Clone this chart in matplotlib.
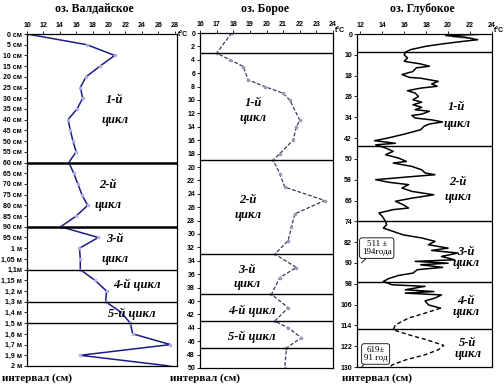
import matplotlib
matplotlib.use("Agg")
import matplotlib.pyplot as plt

W, H = 504, 386
SERIF = "Liberation Serif"
SANS = "Liberation Sans"

# --- оз. Валдайское ---
vald_labels = ["0 см", "5 см", "10 см", "15 см", "20 см", "25 см", "30 см", "35 см",
               "40 см", "45 см", "50 см", "55 см", "60 см", "65 см", "70 см", "75 см",
               "80 см", "85 см", "90 см", "95 см", "1 м", "1,05 м", "1,1м", "1,15 м",
               "1,2 м", "1,3 м", "1,4 м", "1,5 м", "1,6 м", "1,7 м", "1,9 м", "2 м"]
vald_temp = [10.0, 17.3, 20.7, 18.9, 17.2, 16.5, 16.8, 16.1, 15.0, 15.3, 15.6, 16.0,
             15.1, 15.7, 16.2, 16.7, 17.4, 16.0, 14.1, 18.7, 16.4, 16.5, 16.5, 18.3,
             19.7, 19.6, 21.5, 22.6, 22.9, 27.5, 16.5, 27.4]
vald_bounds = ["60 см", "90 см", "1,1м", "1,3 м", "1,5 м"]
vald_bound_lw = [1.8, 1.8, 1.0, 1.0, 1.0]
vald_cycles = ["1-й\nцикл", "2-й\nцикл", "3-й\nцикл", "4-й цикл", "5-й цикл"]
vald_cycle_pos = [(20.7, 7.1), (19.9, 15.0), (20.7, 20.1), (23.4, 23.4), (22.8, 26.1)]

# --- оз. Борое ---
bor_depth = [0, 3, 4, 5, 7, 8, 9, 10, 13, 14, 16, 18, 19, 21, 23, 25, 27, 29, 31, 33,
             35, 36.5, 39, 41, 43, 44, 45.5, 47, 50]
bor_temp = [17.9, 17.0, 17.8, 18.6, 18.9, 19.9, 21.0, 21.4, 22.0, 21.8, 21.6, 20.8,
            20.4, 20.8, 21.1, 23.5, 21.7, 21.5, 21.3, 20.5, 21.8, 20.8, 20.3, 21.3,
            20.5, 21.3, 22.1, 21.2, 21.1]
bor_bounds = [3, 19, 33, 39, 43, 47]
bor_cycles = ["1-й\nцикл", "2-й\nцикл", "3-й\nцикл", "4-й цикл", "5-й цикл"]
bor_cycle_pos = [(19.2, 11.6), (18.9, 26.0), (18.8, 36.4), (19.1, 41.5), (19.1, 45.4)]

# --- оз. Глубокое ---
glub_depth = [2.0, 2.6, 3.2, 4.2, 5.0, 5.8, 6.7, 8.0, 9.0, 10.0, 11.2, 12.5, 13.5, 14.4,
              15.0, 16.4, 17.6, 18.7, 19.0, 19.6, 20.2, 21.2, 22.1, 22.8, 23.8, 24.7,
              26.0, 27.3, 28.2, 29.2, 30.2, 31.1, 31.7, 32.8, 33.3, 34.3, 35.0, 35.8,
              36.6, 37.5, 38.8, 40.5, 42.0, 43.0, 44.0, 44.6, 45.8, 47.1, 48.4, 49.7,
              51.0, 51.6, 52.9, 54.2, 55.4, 56.1, 56.7, 58.0, 59.0, 59.9, 61.2, 62.5,
              63.8, 65.1, 66.3, 67.6, 68.9, 69.5, 70.8, 72.1, 74.0, 75.3, 76.6, 77.9,
              79.2, 80.4, 81.7, 83.0, 84.3, 85.2, 86.2, 87.5, 88.8, 89.4, 90.1, 90.7,
              91.7, 92.6, 93.9, 94.8, 96.0, 97.1, 98.4, 99.0, 100.3, 101.0, 101.6,
              102.3, 103.5, 104.6, 106.1, 107.4]
glub_temp = [23.6, 19.8, 21.5, 22.7, 21.0, 19.5, 18.0, 16.6, 16.1, 16.0, 16.3, 16.0, 17.5,
             18.3, 17.1, 16.8, 15.8, 16.5, 17.5, 18.3, 19.1, 18.5, 19.0, 17.5, 16.3, 17.0,
             17.3, 16.8, 17.6, 16.8, 17.6, 17.0, 18.3, 17.6, 16.7, 17.0, 18.5, 19.5, 18.3,
             17.8, 17.5, 16.0, 14.5, 13.3, 15.2, 13.4, 14.3, 15.0, 14.3, 15.5, 16.2, 15.0,
             16.7, 17.6, 17.9, 18.8, 17.0, 13.4, 14.6, 16.4, 15.8, 16.7, 18.7, 16.7, 15.2,
             15.9, 16.4, 15.0, 13.7, 14.0, 14.3, 14.4, 14.1, 15.0, 15.9, 17.6, 18.8, 18.2,
             20.0, 18.5, 20.9, 19.4, 20.6, 17.0, 20.0, 17.5, 19.5, 17.2, 16.8, 15.5, 14.6,
             14.1, 14.9, 17.9, 16.1, 18.7, 16.1, 19.4, 18.8, 17.9, 18.2, 19.3]
glub_dash_depth = [107.4, 109.3, 111.2, 113.8, 115.7, 117.6, 119.6, 121.7, 123.4,
                   125.3, 127.3, 129.2, 130.0]
glub_dash_temp = [19.3, 17.9, 16.4, 15.2, 15.0, 16.4, 18.1, 19.6, 19.1, 17.9, 16.1,
                  14.9, 14.7]
glub_shade_depth = [1.8, 2.4, 3.4, 4.2, 3.2, 2.6]
glub_shade_temp = [23.6, 20.2, 20.4, 22.7, 21.5, 19.8]
glub_bounds = [9, 45, 74, 97.3, 115.5]
glub_yticks = list(range(2, 131, 8))
glub_yticklabels = ["0"] + [str(v) for v in glub_yticks[1:]]
glub_cycles = ["1-й\nцикл", "2-й\nцикл", "3-й\nцикл", "4-й\nцикл", "5-й\nцикл"]
glub_cycle_pos = [(20.8, 33.3), (20.9, 61.8), (21.6, 87.8), (21.6, 106.6), (21.8, 122.8)]
glub_cycle_ls = [1.5, 1.4, 0.9, 0.9, 0.9]
glub_notes = ["511 ±\n194года", "619±\n91 год"]
glub_note_pos = [(13.5, 84.3), (13.4, 125.0)]
glub_note_tip = [(12.1, 90.0), (12.1, 130.0)]


def px_axes(fig, l, t, r, b):
    return fig.add_axes([l / W, 1 - b / H, (r - l) / W, (b - t) / H])


def style_axes(ax):
    ax.xaxis.tick_top()
    ax.tick_params(axis="both", length=2, width=0.6, pad=1.5)
    for lab in ax.get_xticklabels() + ax.get_yticklabels():
        lab.set_fontfamily(SANS)
        lab.set_fontweight("bold")
        lab.set_fontsize(5)
    for s in ax.spines.values():
        s.set_linewidth(0.9)


def cycle_text(ax, txt, pos, ls=1.5):
    ax.text(pos[0], pos[1], txt, ha="center", va="center", fontfamily=SERIF,
            fontweight="bold", fontstyle="italic", fontsize=9, linespacing=ls)


fig = plt.figure(figsize=(W / 100, H / 100), dpi=100)

# panel 1
ax1 = px_axes(fig, 27, 34, 177, 366)
y1 = list(range(len(vald_labels)))
ax1.plot(vald_temp, y1, color="#1c1c88", lw=1.1, marker="o", ms=1.6,
         mfc="#b0b0e0", mec="#b0b0e0")
for b, lw in zip(vald_bounds, vald_bound_lw):
    ax1.axhline(vald_labels.index(b), color="black", lw=lw)
ax1.set_xlim(10, 28.3)
ax1.set_ylim(len(vald_labels) - 1, 0)
ax1.set_xticks(range(10, 29, 2))
ax1.set_yticks(y1)
ax1.set_yticklabels(vald_labels)
style_axes(ax1)
for t, p in zip(vald_cycles, vald_cycle_pos):
    cycle_text(ax1, t, p, ls=1.9)

# panel 2
ax2 = px_axes(fig, 200, 33, 333, 368)
ax2.plot(bor_temp, bor_depth, color="#3a3a5a", lw=0.9, ls=(0, (3, 1.5)), marker="o",
         ms=1.6, mfc="#9a9ab8", mec="#9a9ab8")
for b in bor_bounds:
    ax2.axhline(b, color="black", lw=1.0)
ax2.set_xlim(16, 24)
ax2.set_ylim(50, 0)
ax2.set_xticks(range(16, 25))
ax2.set_yticks(range(0, 51, 2))
style_axes(ax2)
for t, p in zip(bor_cycles, bor_cycle_pos):
    cycle_text(ax2, t, p, ls=1.3)

# panel 3
ax3 = px_axes(fig, 357, 34, 492, 367)
ax3.fill(glub_shade_temp, glub_shade_depth, color="#909090", lw=0)
ax3.plot(glub_temp, glub_depth, color="black", lw=1.1)
ax3.plot(glub_dash_temp, glub_dash_depth, color="black", lw=1.0, ls=(0, (3, 2)))
for b in glub_bounds:
    ax3.axhline(b, color="black", lw=1.0)
ax3.set_xlim(11.7, 24)
ax3.set_ylim(130, 2)
ax3.set_xticks(range(12, 25, 2))
ax3.set_yticks(glub_yticks)
ax3.set_yticklabels(glub_yticklabels)
style_axes(ax3)
for t, p, ls in zip(glub_cycles, glub_cycle_pos, glub_cycle_ls):
    cycle_text(ax3, t, p, ls=ls)
for note, p, tip in zip(glub_notes, glub_note_pos, glub_note_tip):
    ax3.annotate(note, xy=tip, xytext=p, ha="center", va="center", fontfamily=SERIF,
                 fontsize=6.5, linespacing=1.0,
                 bbox=dict(boxstyle="round,pad=0.25", fc="white", ec="black", lw=0.6),
                 arrowprops=dict(arrowstyle="-", color="black", lw=0.6,
                                 shrinkA=0, shrinkB=0))

# titles and other text
titles = ["оз. Валдайское", "оз. Борое", "оз. Глубокое"]
title_x = [94, 265, 422]
for t, x in zip(titles, title_x):
    fig.text(x / W, 1 - 9 / H, t, ha="center", va="center", fontfamily=SERIF,
             fontweight="bold", fontsize=8.5)
for x in [2, 170, 342]:
    fig.text(x / W, 1 - 378 / H, "интервал (см)", ha="left", va="center",
             fontfamily=SERIF, fontweight="bold", fontsize=8)
for x, y, ha in [(188, 34, "right"), (335, 30, "left"), (494, 30, "left")]:
    fig.text(x / W, 1 - y / H, "t°C", ha=ha, va="center", fontfamily=SANS,
             fontweight="bold", fontsize=5)

fig.savefig("out.png", dpi=100)
